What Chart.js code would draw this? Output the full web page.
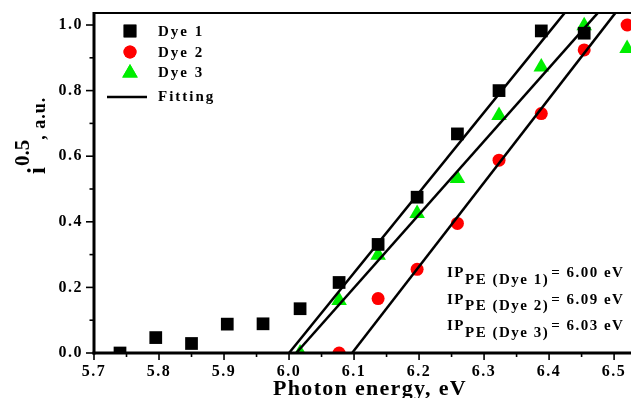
<!DOCTYPE html>
<html><head><meta charset="utf-8">
<script src="https://cdn.jsdelivr.net/npm/chart.js@4.4.0/dist/chart.umd.min.js"></script>
<style>html,body{margin:0;padding:0;background:#fff;}#wrap{width:640px;height:398px;}</style>
</head><body><div id="wrap"><canvas id="c" width="640" height="398"></canvas></div>
<script>
// ---- data ----
const xTicks = [5.7, 5.8, 5.9, 6.0, 6.1, 6.2, 6.3, 6.4, 6.5];
const xMinorTicks = [5.75, 5.85, 5.95, 6.05, 6.15, 6.25, 6.35, 6.45];
const yTicks = [0.0, 0.2, 0.4, 0.6, 0.8, 1.0];
const yMinorTicks = [0.1, 0.3, 0.5, 0.7, 0.9];

const dye1X = [5.74, 5.795, 5.85, 5.905, 5.96, 6.017, 6.077, 6.137, 6.197, 6.259, 6.323, 6.388, 6.454];
const dye1Y = [0.0, 0.047, 0.029, 0.088, 0.089, 0.135, 0.215, 0.331, 0.475, 0.668, 0.80, 0.982, 0.975];
const dye2X = [6.077, 6.137, 6.197, 6.259, 6.323, 6.388, 6.454, 6.52];
const dye2Y = [0.0, 0.166, 0.255, 0.395, 0.588, 0.73, 0.924, 1.0];
const dye3X = [6.017, 6.077, 6.137, 6.197, 6.259, 6.323, 6.388, 6.454, 6.52];
const dye3Y = [0.0, 0.160, 0.298, 0.425, 0.532, 0.724, 0.872, 0.998, 0.928];

const fit1X = [6.000, 6.424]; const fit1Y = [0.0, 1.037];
const fit3X = [6.011, 6.475]; const fit3Y = [0.0, 1.037];
const fit2X = [6.097, 6.502]; const fit2Y = [0.0, 1.037];

const legendLabels = ['Dye 1', 'Dye 2', 'Dye 3', 'Fitting'];
const ipLabels = ['(Dye 1)', '(Dye 2)', '(Dye 3)'];
const ipValues = ['6.00', '6.09', '6.03'];

const xTitle = 'Photon energy, eV';
const yTitleMain = 'i', yTitleSup = '0.5', yTitleRest = ', a.u.';

const FONT = "'Liberation Serif', 'Times New Roman', serif";
const pts = (xs, ys) => xs.map((x, i) => ({x, y: ys[i]}));

const framePlugin = {
  id: 'frame',
  beforeDraw(chart) { chart.ctx.letterSpacing = '1.5px'; },
  afterDatasetsDraw(chart) {
    const {ctx, chartArea: a, scales: {x, y}} = chart;
    ctx.save();
    ctx.strokeStyle = '#000';
    const line = (x1, y1, x2, y2) => { ctx.beginPath(); ctx.moveTo(x1, y1); ctx.lineTo(x2, y2); ctx.stroke(); };
    ctx.lineWidth = 2; line(a.left, a.top, a.right, a.top);
    ctx.lineWidth = 3;
    line(a.left, a.top - 1, a.left, a.bottom + 1.5);
    line(a.left - 1.5, a.bottom, a.right, a.bottom);
    ctx.lineWidth = 1.6;
    yTicks.forEach(v => { const p = y.getPixelForValue(v); line(a.left, p, a.left - 8, p); });
    yMinorTicks.forEach(v => { const p = y.getPixelForValue(v); line(a.left, p, a.left - 4.5, p); });
    xTicks.forEach(v => { const p = x.getPixelForValue(v); line(p, a.bottom, p, a.bottom + 7); });
    xMinorTicks.forEach(v => { const p = x.getPixelForValue(v); line(p, a.bottom, p, a.bottom + 4); });
    ctx.restore();
  },
  afterDraw(chart) {
    const {ctx} = chart;
    const H = Chart.helpers;
    ctx.save();
    ctx.fillStyle = '#000';
    ctx.textBaseline = 'alphabetic';
    ctx.textAlign = 'left';
    // legend
    const ds = chart.data.datasets;
    const styles = [ds[3], ds[4], ds[5]];
    const ly = [31, 52, 73];
    styles.forEach((d, i) => {
      ctx.fillStyle = d.backgroundColor;
      H.drawPoint(ctx, {pointStyle: d.pointStyle, radius: d.pointRadius, borderWidth: 0, rotation: 0}, 130, ly[i]);
      ctx.fill();
    });
    ctx.strokeStyle = '#000'; ctx.lineWidth = 2.5;
    ctx.beginPath(); ctx.moveTo(107, 97); ctx.lineTo(147, 97); ctx.stroke();
    ctx.fillStyle = '#000';
    ctx.font = `bold 15px ${FONT}`;
    ctx.letterSpacing = '2px';
    const lb = [36, 57, 77, 101];
    legendLabels.forEach((t, i) => ctx.fillText(t, 158, lb[i]));

    // IP annotation
    ctx.letterSpacing = '1.5px';
    const base = [277, 303.5, 330];
    ipLabels.forEach((lab, i) => {
      let xx = 447;
      ctx.font = `bold 15px ${FONT}`;
      ctx.fillText('IP', xx, base[i]); xx += ctx.measureText('IP').width;
      ctx.fillText('PE ' + lab, xx, base[i] + 6.5); xx += ctx.measureText('PE ' + lab).width + 2;
      ctx.fillText('= ' + ipValues[i] + ' eV', xx, base[i]);
    });

    // x title
    ctx.font = `bold 22px ${FONT}`;
    ctx.letterSpacing = '1.3px';
    ctx.textAlign = 'center';
    ctx.fillText(xTitle, 370, 395);

    // y title
    ctx.textAlign = 'left';
    ctx.translate(45, 174);
    ctx.rotate(-Math.PI / 2);
    ctx.letterSpacing = '0px';
    ctx.font = `bold 25px ${FONT}`;
    let yy = 0;
    ctx.fillText(yTitleMain, yy, 0); yy += ctx.measureText(yTitleMain).width + 1;
    ctx.font = `bold 21px ${FONT}`;
    ctx.fillText(yTitleSup, yy, -16); yy += ctx.measureText(yTitleSup).width;
    ctx.font = `bold 18px ${FONT}`;
    ctx.letterSpacing = '1px';
    ctx.fillText(yTitleRest, yy, 0);
    ctx.restore();
  }
};

const fitStyle = {type: 'line', showLine: true, borderColor: '#000', borderWidth: 2.5, pointRadius: 0, fill: false, tension: 0, order: 0, clip: 0};

new Chart(document.getElementById('c'), {
  type: 'scatter',
  data: {
    datasets: [
      Object.assign({label: 'fit1', data: pts(fit1X, fit1Y)}, fitStyle),
      Object.assign({label: 'fit2', data: pts(fit2X, fit2Y)}, fitStyle),
      Object.assign({label: 'fit3', data: pts(fit3X, fit3Y)}, fitStyle),
      {label: 'Dye 1', data: pts(dye1X, dye1Y), pointStyle: 'rect', pointRadius: 9, backgroundColor: '#000000', borderWidth: 0, pointBorderWidth: 0, order: 1, clip: 0},
      {label: 'Dye 2', data: pts(dye2X, dye2Y), pointStyle: 'circle', pointRadius: 6.5, backgroundColor: '#ff0000', borderWidth: 0, pointBorderWidth: 0, order: 1, clip: 0},
      {label: 'Dye 3', data: pts(dye3X, dye3Y), pointStyle: 'triangle', pointRadius: 9, backgroundColor: '#00ee00', borderWidth: 0, pointBorderWidth: 0, order: 1, clip: 0}
    ]
  },
  options: {
    responsive: false, animation: false, devicePixelRatio: 1, events: [],
    layout: {padding: {top: 13, left: 0, right: 0, bottom: 0}},
    plugins: {legend: {display: false}, tooltip: {enabled: false}},
    scales: {
      x: {
        type: 'linear', min: 5.7, max: 6.526,
        afterFit: s => { s.height = 45; s.paddingLeft = 0; s.paddingRight = 0; },
        afterBuildTicks: s => { s.ticks = xTicks.map(v => ({value: v})); },
        ticks: {callback: v => Number(v).toFixed(1), font: {family: FONT, weight: 'bold', size: 16}, color: '#000', padding: 9, maxRotation: 0, autoSkip: false},
        grid: {display: false, drawTicks: false}, border: {display: false}
      },
      y: {
        type: 'linear', min: 0, max: 1.0366,
        afterFit: s => { s.width = 94; s.paddingTop = 0; s.paddingBottom = 0; },
        afterBuildTicks: s => { s.ticks = yTicks.map(v => ({value: v})); },
        ticks: {callback: v => Number(v).toFixed(1), font: {family: FONT, weight: 'bold', size: 16}, color: '#000', padding: 11, autoSkip: false},
        grid: {display: false, drawTicks: false}, border: {display: false}
      }
    }
  },
  plugins: [framePlugin]
});
</script></body></html>
